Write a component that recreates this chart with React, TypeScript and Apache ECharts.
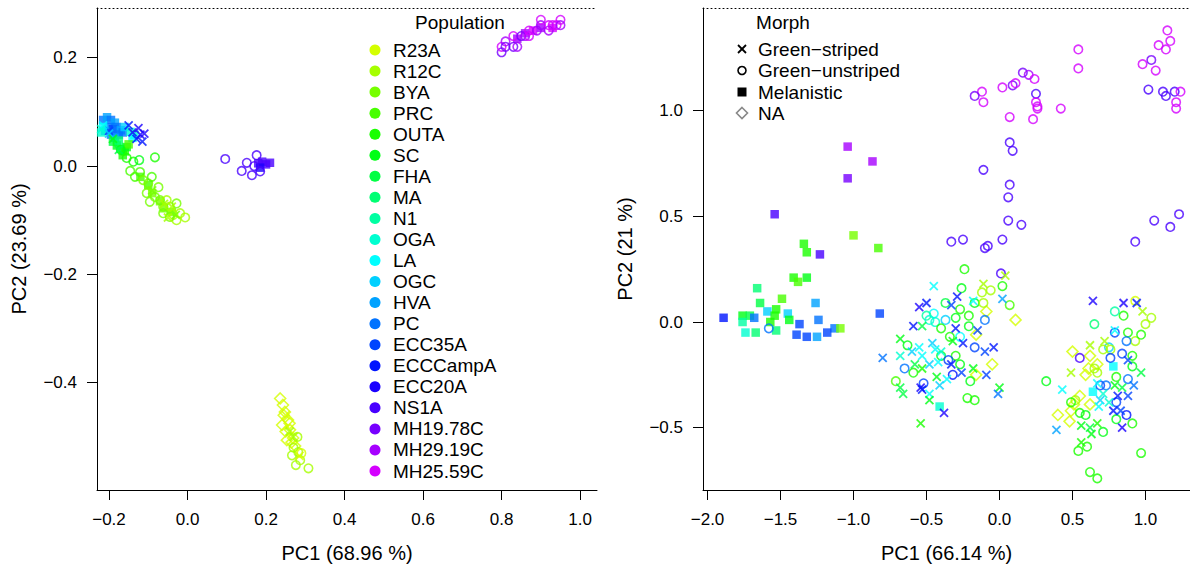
import React, { useEffect, useRef } from "react";
import * as echarts from "echarts";

const populations = ["R23A", "R12C", "BYA", "PRC", "OUTA", "SC", "FHA", "MA", "N1", "OGA", "LA", "OGC", "HVA", "PC", "ECC35A", "ECCCampA", "ECC20A", "NS1A", "MH19.78C", "MH29.19C", "MH25.59C"];
const popColors = ["#d4ff00", "#a6ff00", "#77ff00", "#48ff00", "#1aff00", "#00ff15", "#00ff44", "#00ff73", "#00ffa2", "#00ffd0", "#00ffff", "#00d0ff", "#00a2ff", "#0073ff", "#0044ff", "#0015ff", "#1a00ff", "#4800ff", "#7700ff", "#a600ff", "#d400ff"];
const morphs = ["Green\u2212striped", "Green\u2212unstriped", "Melanistic", "NA"];

const leftXTicks = [-0.2, 0, 0.2, 0.4, 0.6, 0.8, 1.0];
const leftYTicks = [-0.4, -0.2, 0, 0.2];
const rightXTicks = [-2, -1.5, -1, -0.5, 0, 0.5, 1];
const rightYTicks = [-0.5, 0, 0.5, 1];

// [PC1, PC2, population index]
const leftStriped = [
  [-0.15, 0.075, 15], [-0.14, 0.062, 16], [-0.13, 0.05, 15], [-0.12, 0.058, 16], [-0.115, 0.045, 15], [-0.125, 0.07, 16], [-0.11, 0.06, 16], [-0.2, 0.065, 14],
  [-0.215, 0.075, 10], [-0.2, 0.06, 11], [-0.22, 0.068, 9],
  [-0.19, 0.05, 5], [-0.175, 0.03, 6],
  [-0.09, -0.045, 2], [-0.06, -0.07, 1], [-0.04, -0.075, 1], [-0.03, -0.09, 2], [-0.05, -0.095, 1],
  [0.25, -0.46, 0], [0.27, -0.5, 1], [0.285, -0.535, 0], [0.26, -0.49, 1],
];
const leftUnstriped = [
  [-0.138, 0.008, 4], [-0.123, 0.011, 5], [-0.083, 0.016, 4], [-0.17, 0.03, 5], [-0.155, 0.015, 4],
  [-0.146, -0.009, 3], [-0.134, -0.02, 3], [-0.121, -0.011, 3], [-0.113, -0.026, 2], [-0.1, -0.032, 2], [-0.091, -0.02, 3], [-0.074, -0.039, 2],
  [-0.104, -0.05, 2], [-0.083, -0.057, 2], [-0.096, -0.066, 2], [-0.07, -0.063, 2], [-0.053, -0.063, 1], [-0.062, -0.075, 2], [-0.045, -0.075, 1],
  [-0.028, -0.069, 2], [-0.062, -0.087, 2], [-0.036, -0.09, 1], [-0.019, -0.087, 1], [-0.028, -0.1, 1], [-0.006, -0.095, 1], [-0.045, -0.094, 2],
  [0.096, 0.013, 17], [0.138, -0.009, 17], [0.151, 0.006, 17], [0.164, -0.017, 17], [0.176, 0.02, 17], [0.185, -0.01, 17], [0.17, 0.0, 17],
  [0.80, 0.21, 18], [0.80, 0.22, 20], [0.81, 0.23, 19], [0.83, 0.24, 20], [0.83, 0.22, 18], [0.84, 0.22, 19], [0.85, 0.24, 18], [0.86, 0.24, 19],
  [0.87, 0.25, 20], [0.89, 0.25, 19], [0.90, 0.27, 20], [0.90, 0.26, 19], [0.92, 0.26, 20], [0.92, 0.25, 19], [0.93, 0.26, 20], [0.94, 0.26, 20],
  [0.95, 0.27, 20], [0.95, 0.26, 19], [0.81, 0.22, 18], [0.87, 0.24, 20],
  [0.27, -0.52, 1], [0.282, -0.528, 1], [0.266, -0.534, 1], [0.287, -0.543, 1], [0.276, -0.552, 1], [0.308, -0.558, 1], [0.29, -0.53, 0], [0.28, -0.5, 1],
];
const leftMelanistic = [
  [-0.215, 0.085, 13], [-0.205, 0.09, 12], [-0.195, 0.085, 13], [-0.185, 0.08, 12], [-0.2, 0.072, 13], [-0.19, 0.068, 14], [-0.18, 0.072, 13],
  [-0.17, 0.066, 12], [-0.175, 0.058, 13], [-0.165, 0.062, 13], [-0.21, 0.065, 12], [-0.195, 0.058, 13], [-0.185, 0.052, 12], [-0.16, 0.072, 11],
  [-0.145, 0.063, 9], [-0.135, 0.058, 9], [-0.14, 0.052, 10], [-0.215, 0.072, 10], [-0.22, 0.062, 9],
  [-0.19, 0.045, 6], [-0.18, 0.038, 5], [-0.17, 0.032, 6], [-0.16, 0.027, 4], [-0.175, 0.047, 7], [-0.155, 0.035, 5], [-0.165, 0.02, 4], [-0.15, 0.04, 3],
  [-0.12, -0.02, 3], [-0.1, -0.035, 3], [-0.09, -0.05, 2], [-0.07, -0.065, 2], [-0.06, -0.078, 2], [-0.04, -0.085, 2],
  [0.18, 0.005, 17], [0.19, 0.008, 17], [0.2, 0.003, 17], [0.21, 0.006, 17], [0.185, -0.003, 16],
  [0.84, 0.235, 19], [0.86, 0.245, 19], [0.88, 0.25, 20], [0.9, 0.255, 19], [0.93, 0.255, 20],
];
const leftNA = [
  [0.236, -0.429, 0], [0.243, -0.441, 0], [0.248, -0.454, 0], [0.256, -0.469, 0], [0.241, -0.478, 0], [0.261, -0.487, 0], [0.269, -0.502, 0],
  [0.253, -0.506, 0], [0.274, -0.517, 0], [0.245, -0.46, 0], [0.26, -0.475, 0], [0.25, -0.49, 0], [0.265, -0.51, 0],
];

const rightStriped = [
  [0.04, 0.22, 1], [-0.45, 0.17, 10], [-0.11, 0.18, 1], [-0.29, 0.12, 15], [-0.18, 0.10, 10], [0.02, 0.11, 12], [-0.50, 0.09, 15], [-0.55, 0.07, 16],
  [-0.33, 0.08, 14], [-0.59, -0.02, 15], [-0.53, -0.02, 6], [-0.30, -0.03, 15], [-0.15, -0.04, 14], [-0.68, -0.08, 5], [-0.55, -0.12, 10],
  [-0.46, -0.10, 11], [-0.44, -0.13, 10], [-0.40, -0.14, 9], [-0.32, -0.09, 5], [-0.25, -0.10, 15], [-0.10, -0.14, 14], [-0.04, -0.12, 15],
  [-0.80, -0.17, 13], [-0.68, -0.16, 9], [-0.60, -0.14, 11], [-0.53, -0.16, 10], [-0.42, -0.19, 10], [-0.48, -0.20, 11], [-0.33, -0.20, 15],
  [-0.26, -0.24, 14], [-0.18, -0.22, 5], [-0.58, -0.20, 6], [-0.53, -0.22, 4], [-0.09, -0.25, 14], [-0.43, -0.26, 5], [-0.36, -0.27, 10],
  [-0.41, -0.30, 11], [-0.68, -0.31, 6], [-0.54, -0.31, 16], [0.00, -0.31, 5], [-0.66, -0.34, 6], [-0.53, -0.32, 15], [-0.48, -0.34, 10],
  [-0.01, -0.34, 13], [-0.48, -0.37, 5], [-0.38, -0.43, 16], [-0.54, -0.48, 4],
  [0.64, 0.10, 16], [0.85, 0.09, 16], [0.94, 0.09, 15], [0.98, 0.05, 1], [0.79, -0.04, 10], [0.62, -0.11, 1], [0.72, -0.09, 1], [0.88, -0.18, 14],
  [0.49, -0.24, 1], [0.97, -0.24, 6], [0.67, -0.29, 10], [0.79, -0.30, 5], [0.84, -0.31, 6], [0.92, -0.30, 13], [0.43, -0.32, 10], [0.71, -0.34, 9],
  [0.81, -0.35, 15], [0.88, -0.35, 14], [0.69, -0.37, 11], [0.75, -0.38, 9], [0.68, -0.40, 10], [0.78, -0.42, 15], [0.83, -0.42, 14], [0.84, -0.50, 16],
  [0.56, -0.49, 5], [0.62, -0.50, 6], [0.67, -0.48, 4], [0.63, -0.53, 5], [0.39, -0.51, 12], [0.56, -0.57, 4],
];
const rightUnstriped = [
  [-0.24, 0.25, 4], [0.01, 0.23, 17], [-0.26, 0.16, 5], [-0.06, 0.15, 1], [0.02, 0.17, 4], [-0.12, 0.14, 1], [-0.37, 0.09, 6], [-0.27, 0.06, 4],
  [-0.17, 0.09, 5], [-0.11, 0.09, 1], [-0.10, 0.01, 13], [-0.21, 0.03, 4], [-0.30, 0.02, 5], [-0.45, 0.04, 10], [-0.50, 0.03, 8], [-0.48, 0.01, 9],
  [-0.44, 0.00, 9], [-0.37, 0.01, 11], [-0.40, -0.03, 4], [-0.21, -0.02, 5], [-0.34, -0.07, 4], [-0.27, -0.07, 10], [-0.63, -0.11, 5], [-0.17, -0.12, 14],
  [-0.40, -0.16, 5], [-0.30, -0.16, 4], [-0.35, -0.18, 14], [-0.27, -0.20, 5], [-0.65, -0.22, 13], [-0.59, -0.24, 4], [-0.32, -0.25, 15], [-0.71, -0.28, 3],
  [-0.52, -0.29, 14], [-0.20, -0.28, 5], [-0.22, -0.36, 4], [-0.17, -0.37, 4], [0.07, 0.08, 3], [-1.58, -0.03, 13],
  [0.93, 0.10, 0], [0.79, 0.05, 8], [0.85, 0.03, 4], [1.04, 0.02, 1], [1.00, -0.01, 1], [0.65, -0.01, 7], [0.79, -0.05, 14], [0.88, -0.05, 4],
  [0.93, -0.09, 1], [0.97, -0.06, 4], [0.87, -0.09, 13], [0.75, -0.12, 11], [0.55, -0.17, 17], [0.71, -0.13, 1], [0.76, -0.13, 1], [0.84, -0.15, 14],
  [0.91, -0.16, 4], [0.76, -0.17, 14], [0.65, -0.22, 1], [0.67, -0.24, 1], [0.91, -0.21, 5], [0.80, -0.26, 4], [0.88, -0.27, 13], [0.32, -0.28, 5],
  [0.69, -0.30, 14], [0.73, -0.30, 13], [0.52, -0.37, 1], [0.49, -0.38, 4], [0.80, -0.38, 14], [0.87, -0.44, 15], [0.80, -0.46, 5], [0.55, -0.43, 4],
  [0.59, -0.44, 5], [0.91, -0.48, 4], [0.71, -0.52, 5], [0.60, -0.59, 4], [0.54, -0.61, 4], [0.97, -0.62, 4], [0.62, -0.71, 4], [0.67, -0.74, 4],
  [1.15, 1.38, 20], [1.17, 1.33, 20], [1.09, 1.31, 20], [1.14, 1.29, 20], [1.04, 1.24, 18], [0.98, 1.22, 20], [1.07, 1.19, 20], [1.02, 1.10, 17],
  [1.12, 1.09, 17], [1.14, 1.07, 17], [1.20, 1.09, 17], [1.24, 1.09, 20], [1.21, 1.04, 20], [1.21, 1.01, 20], [0.54, 1.29, 20], [0.54, 1.20, 20],
  [0.16, 1.18, 18], [0.20, 1.17, 19], [0.24, 1.15, 20], [0.02, 1.11, 20], [0.09, 1.12, 18], [0.11, 1.13, 20], [-0.12, 1.09, 20], [-0.17, 1.07, 18],
  [-0.11, 1.04, 20], [0.25, 1.08, 17], [0.25, 1.04, 20], [0.26, 1.02, 20], [0.26, 1.01, 20], [0.42, 1.01, 20], [0.07, 0.97, 20], [0.23, 0.96, 20],
  [0.07, 0.85, 17], [0.09, 0.81, 17], [-0.11, 0.72, 17], [0.07, 0.65, 17], [0.06, 0.59, 17], [0.06, 0.48, 17], [0.15, 0.46, 17], [-0.33, 0.38, 17],
  [-0.25, 0.39, 17], [-0.10, 0.35, 17], [-0.08, 0.36, 17], [0.02, 0.39, 17], [0.93, 0.38, 17], [1.06, 0.48, 17], [1.17, 0.45, 17], [1.23, 0.51, 17],
];
const rightMelanistic = [
  [-1.00, 0.41, 2], [-0.83, 0.35, 3], [-1.34, 0.37, 4], [-1.32, 0.33, 4], [-1.23, 0.32, 17], [-1.41, 0.21, 4], [-1.32, 0.21, 5], [-1.38, 0.19, 3],
  [-1.66, 0.16, 7], [-1.49, 0.11, 3], [-1.64, 0.09, 6], [-1.26, 0.09, 12], [-1.53, 0.06, 4], [-1.59, 0.05, 11], [-1.45, 0.04, 11], [-1.76, 0.03, 5],
  [-1.71, 0.03, 6], [-1.68, 0.02, 13], [-1.44, 0.01, 5], [-1.57, 0.00, 4], [-1.54, 0.03, 4], [-1.89, 0.02, 15], [-1.24, 0.01, 13], [-1.37, -0.01, 14],
  [-1.76, 0.00, 8], [-0.82, 0.04, 14], [-1.13, -0.03, 13], [-1.09, -0.03, 2], [-1.53, -0.04, 7], [-1.67, -0.05, 7], [-1.74, -0.05, 9], [-1.39, -0.06, 14],
  [-1.32, -0.07, 14], [-1.25, -0.07, 12], [-1.18, -0.05, 14], [-1.54, 0.51, 17], [-1.04, 0.83, 19], [-1.04, 0.68, 18], [-0.87, 0.76, 19],
  [-0.41, -0.40, 9], [0.78, -0.21, 10], [0.64, -0.33, 10],
];
const rightNA = [
  [-0.09, 0.05, 0], [-0.16, -0.06, 0], [-0.05, -0.20, 0], [-0.16, -0.25, 0], [0.11, 0.01, 0], [0.50, -0.14, 0], [0.62, -0.16, 0], [0.67, -0.20, 0],
  [0.61, -0.22, 0], [0.59, -0.25, 0], [0.55, -0.35, 0], [0.62, -0.39, 0], [0.51, -0.39, 0], [0.49, -0.42, 0], [0.40, -0.44, 0], [0.48, -0.47, 0],
];

const FONT = "'Liberation Sans', Arial, Helvetica, sans-serif";
const CLEAR = "rgba(0,0,0,0)";
const TICK_FS = 17;
const TITLE_FS = 20;
const LEG_FS = 19;
const fmt = (v: number) => (v < 0 ? "\u2212" : "") + Math.abs(v).toFixed(1);

const L = { left: 97, top: 8, width: 500, height: 482, xMin: -0.2306, xMax: 1.043, yMin: -0.598, yMax: 0.2917 };
const R = { left: 703, top: 8, width: 487, height: 482, xMin: -2.031, xMax: 1.305, yMin: -0.795, yMax: 1.486 };

function morphSeries(arr: number[][], morph: number, ax: number) {
  const item = (p: number[]) => {
    const c = popColors[p[2]];
    if (morph === 2) return { value: [p[0], p[1]], itemStyle: { color: c } };
    return { value: [p[0], p[1]], itemStyle: { color: CLEAR, borderColor: c, borderWidth: morph === 0 ? 1.8 : 1.6 } };
  };
  const symbol = ["path://M0,0L10,10M10,0L0,10", "circle", "rect", "diamond"][morph];
  const size = [8, 8.5, 8.5, 11][morph];
  return {
    type: "scatter",
    name: morphs[morph],
    xAxisIndex: ax,
    yAxisIndex: ax,
    symbol,
    symbolSize: size,
    silent: true,
    emphasis: { disabled: true },
    data: arr.map(item),
  };
}

function bottomAxis(g: any, ticks: number[], name: string, gi: number) {
  return {
    gridIndex: gi, type: "value", min: g.xMin, max: g.xMax, position: "bottom",
    axisLine: { show: true, onZero: false, lineStyle: { color: "#000", width: 1 } },
    axisTick: { show: true, length: 10, customValues: ticks, lineStyle: { color: "#000", width: 1 } },
    axisLabel: { show: true, customValues: ticks, formatter: fmt, margin: 21, color: "#000", fontSize: TICK_FS, fontFamily: FONT },
    splitLine: { show: false },
    name, nameLocation: "middle", nameGap: 53,
    nameTextStyle: { color: "#000", fontSize: TITLE_FS, fontFamily: FONT },
  };
}
function topAxis(g: any, gi: number) {
  return {
    gridIndex: gi, type: "value", min: g.xMin, max: g.xMax, position: "top",
    axisLine: { show: true, onZero: false, lineStyle: { color: "#000", width: 1, type: [1, 3] } },
    axisTick: { show: false }, axisLabel: { show: false }, splitLine: { show: false },
  };
}
function leftAxis(g: any, ticks: number[], name: string, gi: number) {
  return {
    gridIndex: gi, type: "value", min: g.yMin, max: g.yMax, position: "left",
    axisLine: { show: true, onZero: false, lineStyle: { color: "#000", width: 1 } },
    axisTick: { show: true, length: 10, customValues: ticks, lineStyle: { color: "#000", width: 1 } },
    axisLabel: { show: true, customValues: ticks, formatter: fmt, margin: 20, color: "#000", fontSize: TICK_FS, fontFamily: FONT },
    splitLine: { show: false },
    name, nameLocation: "middle", nameGap: 68,
    nameTextStyle: { color: "#000", fontSize: TITLE_FS, fontFamily: FONT },
  };
}

function txt(text: string, x: number, y: number, align: string, size = LEG_FS) {
  return {
    type: "text", x, y, silent: true,
    style: { text, fill: "#000", fontSize: size, fontFamily: FONT, align, verticalAlign: "middle", textAlign: align, textVerticalAlign: "middle" },
  };
}

export default function App() {
  const ref = useRef<HTMLDivElement>(null);
  useEffect(() => {
    if (!ref.current) return;
    const chart = echarts.init(ref.current, undefined, { renderer: "svg" });
    const graphics: any[] = [];
    graphics.push(txt("Population", 460, 22, "center"));
    populations.forEach((p, i) => {
      const y = 50 + i * 21.05;
      graphics.push({ type: "circle", silent: true, shape: { cx: 375, cy: y, r: 5.5 }, style: { fill: popColors[i] } });
      graphics.push(txt(p, 393, y, "left"));
    });
    graphics.push(txt("Morph", 783, 22, "center"));
    const my = [49, 70.5, 92, 113];
    const mx = 742;
    graphics.push({ type: "line", silent: true, shape: { x1: mx - 4, y1: my[0] - 4, x2: mx + 4, y2: my[0] + 4 }, style: { stroke: "#000", lineWidth: 1.8 } });
    graphics.push({ type: "line", silent: true, shape: { x1: mx - 4, y1: my[0] + 4, x2: mx + 4, y2: my[0] - 4 }, style: { stroke: "#000", lineWidth: 1.8 } });
    graphics.push({ type: "circle", silent: true, shape: { cx: mx, cy: my[1], r: 4 }, style: { fill: "none", stroke: "#000", lineWidth: 1.6 } });
    graphics.push({ type: "rect", silent: true, shape: { x: mx - 4.5, y: my[2] - 4.5, width: 9, height: 9 }, style: { fill: "#000" } });
    graphics.push({ type: "polygon", silent: true, shape: { points: [[mx, my[3] - 5.5], [mx + 5.5, my[3]], [mx, my[3] + 5.5], [mx - 5.5, my[3]]] }, style: { fill: "none", stroke: "#888", lineWidth: 1.6 } });
    morphs.forEach((m, i) => graphics.push(txt(m, 758, my[i], "left")));

    chart.setOption({
      animation: false,
      backgroundColor: "#fff",
      textStyle: { fontFamily: FONT },
      grid: [
        { left: L.left, top: L.top, width: L.width, height: L.height, containLabel: false },
        { left: R.left, top: R.top, width: R.width, height: R.height, containLabel: false },
      ],
      xAxis: [
        bottomAxis(L, leftXTicks, "PC1 (68.96 %)", 0),
        bottomAxis(R, rightXTicks, "PC1 (66.14 %)", 1),
        topAxis(L, 0),
        topAxis(R, 1),
      ],
      yAxis: [
        leftAxis(L, leftYTicks, "PC2 (23.69 %)", 0),
        leftAxis(R, rightYTicks, "PC2 (21 %)", 1),
      ],
      series: [
        morphSeries(leftMelanistic, 2, 0),
        morphSeries(leftNA, 3, 0),
        morphSeries(leftUnstriped, 1, 0),
        morphSeries(leftStriped, 0, 0),
        morphSeries(rightMelanistic, 2, 1),
        morphSeries(rightNA, 3, 1),
        morphSeries(rightUnstriped, 1, 1),
        morphSeries(rightStriped, 0, 1),
      ],
      graphic: graphics,
    });
    return () => chart.dispose();
  }, []);
  return <div ref={ref} style={{ position: "fixed", left: 0, top: 0, width: 1190, height: 573 }} />;
}
